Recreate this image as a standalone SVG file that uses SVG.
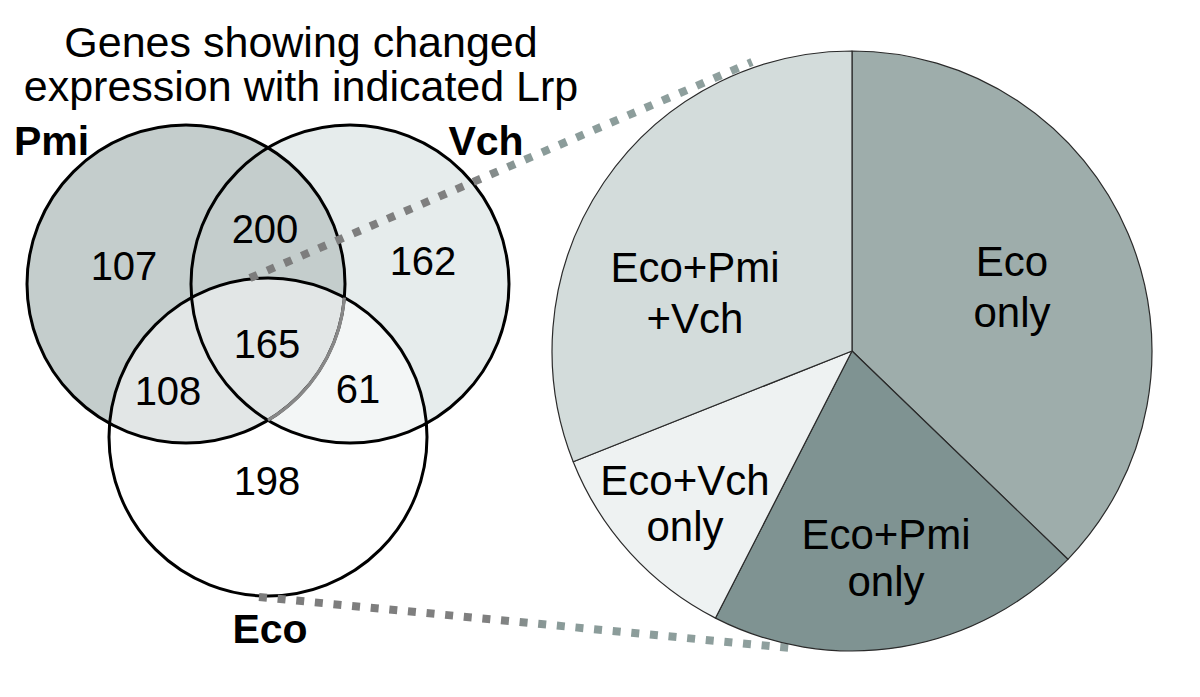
<svg xmlns="http://www.w3.org/2000/svg" width="1200" height="697" viewBox="0 0 1200 697">
<defs>
<style>
text{font-family:"Liberation Sans",Arial,sans-serif;fill:#000}
.t{font-size:43px;text-anchor:middle}
.n{font-size:40px;text-anchor:middle}
.lab{font-size:41px;font-weight:bold}
.pl{font-size:42px;text-anchor:middle}
.ring{fill:none;stroke:#000;stroke-width:3}
.dot{fill:none;stroke-width:8;stroke-dasharray:8 10.7}
.sl{stroke:#2a2a2a;stroke-width:1.2;stroke-linejoin:round}
</style>
<linearGradient id="g1" gradientUnits="userSpaceOnUse" x1="250" y1="278" x2="745" y2="65">
<stop offset="0" stop-color="#7c7c7c"/><stop offset="0.45" stop-color="#808080"/><stop offset="0.55" stop-color="#8a9b99"/><stop offset="1" stop-color="#8fa09e"/>
</linearGradient>
<linearGradient id="g2" gradientUnits="userSpaceOnUse" x1="259" y1="597" x2="790" y2="648">
<stop offset="0" stop-color="#7c7c7c"/><stop offset="0.45" stop-color="#808080"/><stop offset="0.55" stop-color="#8a9b99"/><stop offset="1" stop-color="#8fa09e"/>
</linearGradient>
</defs>
<rect width="1200" height="697" fill="#fff"/>
<g id="title">
<text class="t" x="301" y="57">Genes showing changed</text>
<text class="t" x="301" y="101">expression with indicated Lrp</text>
</g>
<g id="venn">
<g id="vch"><circle cx="350" cy="284" r="159" fill="#e6ecec"/></g>
<g id="pmi"><circle cx="186" cy="284" r="159" fill="#c4cdcc"/></g>
<g id="eco"><circle cx="268" cy="437" r="159" fill="#fff" fill-opacity="0.5"/></g>
<circle class="ring" cx="350" cy="284" r="159"/>
<circle class="ring" cx="186" cy="284" r="159"/>
<circle class="ring" cx="268" cy="437" r="159"/>
<path d="M344.4,297.6 A159,159 0 0 1 268,420.2" fill="none" stroke="#888" stroke-width="3.2"/>
<text class="n" x="124" y="280">107</text>
<text class="n" x="265" y="243">200</text>
<text class="n" x="423" y="275">162</text>
<text class="n" x="267" y="358">165</text>
<text class="n" x="168" y="405">108</text>
<text class="n" x="358" y="403">61</text>
<text class="n" x="267" y="495">198</text>
<text class="lab" x="14" y="155">Pmi</text>
<text class="lab" x="486" y="155" text-anchor="middle">Vch</text>
<text class="lab" x="270" y="643" text-anchor="middle">Eco</text>
</g>
<g id="connectors">
<line class="dot" x1="250" y1="278" x2="752" y2="62" stroke="url(#g1)"/>
<line class="dot" x1="259" y1="597" x2="790" y2="648" stroke="url(#g2)"/>
</g>
<g id="pie">
<g id="s-eco"><path class="sl" d="M852,351 L852,51 A300,300 0 0 1 1067.9,559.3 Z" fill="#9eadab"/></g>
<g id="s-ecopmi"><path class="sl" d="M852,351 L1067.9,559.3 A300,300 0 0 1 715.5,618.1 Z" fill="#7f9392"/></g>
<g id="s-ecovch"><path class="sl" d="M852,351 L715.5,618.1 A300,300 0 0 1 573.2,461.7 Z" fill="#eef2f2"/></g>
<g id="s-all"><path class="sl" d="M852,351 L573.2,461.7 A300,300 0 0 1 852,51 Z" fill="#d3dcdb"/></g>
<text class="pl" x="695" y="282">Eco+Pmi</text>
<text class="pl" x="695" y="333">+Vch</text>
<text class="pl" x="1012" y="276">Eco</text>
<text class="pl" x="1012" y="327">only</text>
<text class="pl" x="685" y="495">Eco+Vch</text>
<text class="pl" x="685" y="541">only</text>
<text class="pl" x="886" y="549">Eco+Pmi</text>
<text class="pl" x="886" y="596">only</text>
</g>
</svg>
